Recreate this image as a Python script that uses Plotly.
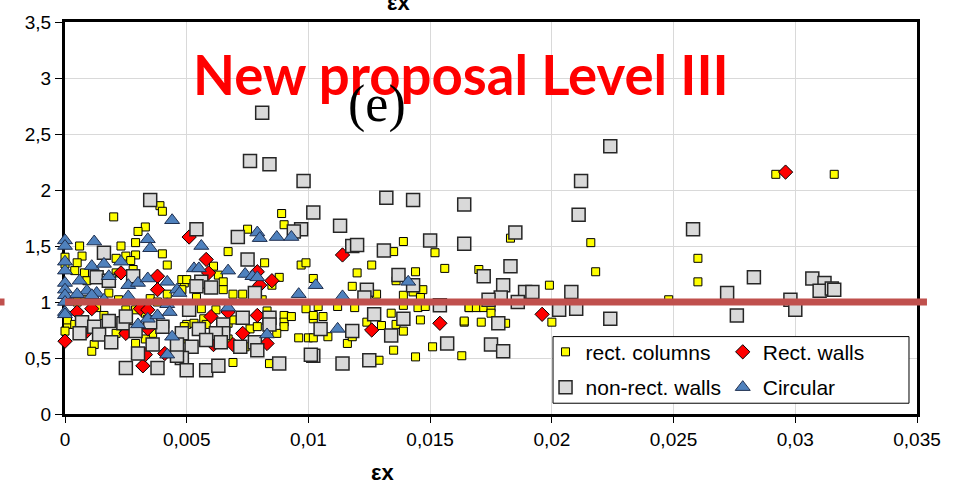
import plotly.graph_objects as go

# ---------------- data (x = εx, y = ratio) ----------------
rect_columns = [
    (0.0020, 1.76), (0.0039, 1.86), (0.0040, 1.81), (0.0033, 1.67), (0.0030, 1.63),
    (0.0006, 1.50), (0.0023, 1.50), (0.0029, 1.53), (0.0029, 1.42), (0.0040, 1.43),
    (0.0042, 1.33), (0.0000, 1.40), (0.0000, 1.34), (0.0007, 1.41), (0.0005, 1.35),
    (0.0021, 1.39), (0.0025, 1.41), (0.0027, 1.37), (0.0004, 1.28), (0.0008, 1.26),
    (0.0009, 1.19), (0.0021, 1.26), (0.0028, 1.29), (0.0049, 1.17), (0.0048, 1.11),
    (0.0042, 1.07), (0.0009, 1.02), (0.0022, 1.02), (0.0029, 0.93), (0.0025, 0.93),
    (0.0001, 0.88), (0.0001, 0.80), (0.0000, 0.74), (0.0001, 0.84), (0.0004, 0.80),
    (0.0012, 0.62), (0.0011, 0.56), (0.0048, 0.67), (0.0050, 0.80), (0.0041, 0.80),
    (0.0036, 0.72), (0.0033, 0.67), (0.0029, 0.63), (0.0023, 0.78), (0.0021, 0.72),
    (0.0013, 0.95), (0.0016, 0.88), (0.0005, 1.00), (0.0018, 1.08), (0.0035, 1.03),
    (0.0038, 1.00), (0.0033, 0.90),
    (0.0089, 1.79), (0.0090, 1.69), (0.0075, 1.65), (0.0067, 1.45), (0.0082, 1.35),
    (0.0097, 1.33), (0.0061, 1.32), (0.0088, 1.22), (0.0085, 1.15), (0.0063, 1.24),
    (0.0065, 1.18), (0.0065, 1.11), (0.0069, 1.07), (0.0073, 1.07), (0.0081, 1.02),
    (0.0083, 0.92), (0.0062, 0.93), (0.0056, 0.94), (0.0050, 0.93), (0.0049, 0.78),
    (0.0053, 0.81), (0.0057, 0.85), (0.0058, 0.80), (0.0067, 0.81), (0.0069, 0.84),
    (0.0076, 0.76), (0.0079, 0.78), (0.0090, 0.88), (0.0090, 0.82), (0.0093, 0.87),
    (0.0090, 0.78), (0.0087, 0.72), (0.0096, 0.68), (0.0100, 0.68), (0.0069, 0.46),
    (0.0084, 0.45), (0.0074, 0.60), (0.0067, 0.67), (0.0048, 1.20), (0.0050, 1.20),
    (0.0099, 0.94), (0.0102, 0.85), (0.0054, 1.04),
    (0.0139, 1.54), (0.0135, 1.45), (0.0152, 1.44), (0.0126, 1.33), (0.0120, 1.26),
    (0.0156, 1.30), (0.0144, 1.27), (0.0136, 1.19), (0.0118, 1.14), (0.0147, 1.11),
    (0.0128, 1.07), (0.0139, 1.06), (0.0143, 1.09), (0.0146, 1.04), (0.0102, 1.21),
    (0.0099, 1.35), (0.0104, 0.96), (0.0112, 0.96), (0.0119, 0.95), (0.0139, 0.97),
    (0.0145, 0.95), (0.0148, 0.96), (0.0166, 0.95), (0.0102, 0.88), (0.0106, 0.87),
    (0.0134, 0.90), (0.0146, 0.84), (0.0164, 0.82), (0.0124, 0.82), (0.0130, 0.79),
    (0.0136, 0.80), (0.0139, 0.74), (0.0102, 0.68), (0.0108, 0.69), (0.0116, 0.63),
    (0.0118, 0.69), (0.0151, 0.60), (0.0135, 0.57), (0.0144, 0.51), (0.0163, 0.52),
    (0.0129, 0.48),
    (0.0216, 1.53), (0.0218, 1.27), (0.0199, 1.15), (0.0170, 1.29), (0.0183, 1.57),
    (0.0248, 1.02), (0.0166, 0.95), (0.0169, 0.95), (0.0172, 0.95), (0.0175, 0.95),
    (0.0175, 0.90), (0.0164, 0.83), (0.0171, 0.82), (0.0181, 0.81), (0.0200, 0.82),
    (0.0292, 2.14), (0.0316, 2.14), (0.0260, 1.39), (0.0260, 1.18),
]

rect_walls = [
    (0.0296, 2.16), (0.0196, 0.89), (0.0114, 1.42), (0.0126, 0.75), (0.0154, 0.81),
    (0.0051, 1.58), (0.0058, 1.38), (0.0059, 1.26), (0.0079, 1.27), (0.0085, 1.19),
    (0.0060, 0.87), (0.0079, 0.88), (0.0073, 0.72), (0.0069, 0.62), (0.0083, 0.63),
    (0.0080, 1.15), (0.0067, 0.91), (0.0000, 0.65), (0.0032, 0.43), (0.0038, 1.23),
    (0.0023, 1.26), (0.0038, 1.11), (0.0025, 0.72), (0.0009, 0.74), (0.0034, 0.76),
    (0.0033, 0.53), (0.0041, 0.54), (0.0031, 0.94), (0.0005, 0.91), (0.0011, 0.94),
    (0.0034, 0.93), (0.0061, 0.62),
]

non_rect_walls = [
    (0.0081, 2.69), (0.0076, 2.26), (0.0084, 2.23), (0.0098, 2.08), (0.0224, 2.39),
    (0.0212, 2.08), (0.0211, 1.78), (0.0258, 1.65), (0.0132, 1.93), (0.0143, 1.91),
    (0.0035, 1.91), (0.0102, 1.80), (0.0113, 1.68), (0.0164, 1.87), (0.0164, 1.52),
    (0.0054, 1.65), (0.0071, 1.58), (0.0097, 1.65), (0.0094, 1.63), (0.0185, 1.62),
    (0.0183, 1.32), (0.0118, 1.50), (0.0120, 1.51), (0.0131, 1.46), (0.0150, 1.55),
    (0.0137, 1.24), (0.0124, 1.11), (0.0123, 1.04), (0.0143, 1.15), (0.0127, 0.89),
    (0.0139, 0.85), (0.0105, 0.76), (0.0118, 0.74), (0.0134, 0.70), (0.0157, 0.63),
    (0.0102, 0.52), (0.0114, 0.45), (0.0125, 0.48), (0.0154, 0.97), (0.0172, 1.23),
    (0.0180, 1.15), (0.0189, 1.09), (0.0192, 1.09), (0.0179, 1.04), (0.0174, 1.02),
    (0.0186, 1.00), (0.0208, 1.09), (0.0203, 0.93), (0.0210, 0.94), (0.0224, 0.85),
    (0.0178, 0.81), (0.0175, 0.62), (0.0180, 0.56), (0.0283, 1.22), (0.0272, 1.08),
    (0.0276, 0.88), (0.0298, 1.02), (0.0300, 0.93), (0.0307, 1.21), (0.0312, 1.17),
    (0.0310, 1.10), (0.0315, 1.12), (0.0316, 1.11),
    (0.0075, 1.38), (0.0056, 1.18), (0.0060, 1.13), (0.0054, 1.14), (0.0078, 1.08),
    (0.0051, 0.93), (0.0073, 0.86), (0.0084, 0.86), (0.0055, 0.76), (0.0065, 0.80),
    (0.0065, 0.72), (0.0062, 0.72), (0.0058, 0.66), (0.0064, 0.64), (0.0072, 0.60),
    (0.0078, 0.64), (0.0079, 0.57), (0.0084, 0.80), (0.0052, 0.60), (0.0048, 0.72),
    (0.0048, 0.50), (0.0050, 0.39), (0.0058, 0.39), (0.0063, 0.43), (0.0088, 0.45),
    (0.0101, 0.53), (0.0016, 1.44), (0.0013, 1.22), (0.0028, 1.23), (0.0018, 1.19),
    (0.0007, 0.82), (0.0006, 0.72), (0.0012, 0.78), (0.0018, 0.83), (0.0014, 0.71),
    (0.0019, 0.64), (0.0024, 0.81), (0.0029, 0.74), (0.0030, 0.54), (0.0025, 0.41),
    (0.0038, 0.41), (0.0036, 0.62), (0.0046, 0.52), (0.0040, 0.78), (0.0035, 0.82),
    (0.0025, 0.87), (0.0046, 0.62),
]

circular = [
    (0.0000, 1.55), (0.0000, 1.50), (0.0012, 1.54), (0.0044, 1.73), (0.0034, 1.56),
    (0.0035, 1.48), (0.0000, 1.28), (0.0000, 1.17), (0.0000, 1.11), (0.0000, 1.06),
    (0.0000, 1.00), (0.0000, 0.91), (0.0000, 1.36), (0.0000, 0.89), (0.0011, 1.32),
    (0.0016, 1.34), (0.0023, 1.36), (0.0006, 1.19), (0.0018, 1.23), (0.0009, 1.10),
    (0.0013, 1.08), (0.0005, 1.07), (0.0026, 1.15), (0.0030, 1.17), (0.0034, 1.21),
    (0.0042, 1.18), (0.0046, 1.11), (0.0042, 0.98), (0.0030, 0.80), (0.0034, 0.85),
    (0.0038, 0.88), (0.0043, 0.91), (0.0044, 0.69), (0.0042, 0.53), (0.0026, 1.05),
    (0.0011, 1.06), (0.0016, 1.02), (0.0056, 1.50), (0.0079, 1.62), (0.0080, 1.57),
    (0.0087, 1.58), (0.0093, 1.58), (0.0053, 1.30), (0.0055, 1.30), (0.0067, 1.28),
    (0.0074, 1.25), (0.0077, 1.23), (0.0079, 1.22), (0.0096, 1.07), (0.0067, 0.95),
    (0.0083, 0.71), (0.0047, 1.08), (0.0103, 1.15), (0.0141, 1.18), (0.0114, 1.05),
    (0.0112, 0.76),
]

reference_value = 1.0
x_tick_vals = [0, 0.005, 0.01, 0.015, 0.02, 0.025, 0.03, 0.035]
x_tick_text = ["0", "0,005", "0,01", "0,015", "0,02", "0,025", "0,03", "0,035"]
y_tick_vals = [0, 0.5, 1, 1.5, 2, 2.5, 3, 3.5]
y_tick_text = ["0", "0,5", "1", "1,5", "2", "2,5", "3", "3,5"]

# ---------------- figure ----------------
fig = go.Figure()

def add_series(points, name, symbol, size, fill, outline, lw, legend, group):
    fig.add_trace(go.Scatter(
        x=[p[0] for p in points], y=[p[1] for p in points],
        mode="markers", name=name, cliponaxis=False,
        marker=dict(symbol=symbol, size=size, color=fill,
                    line=dict(color=outline, width=lw)),
        legend=legend, legendgroup=group,
    ))

add_series(rect_columns, "rect. columns", "square", 8, "#FFFF00", "#000000", 1, "legend", "g1")
add_series(rect_walls, "Rect. walls", "diamond", 11, "#FF0000", "#000000", 1, "legend2", "g2")
add_series(non_rect_walls, "non-rect. walls", "square", 13, "#D9D9D9", "#262626", 1.5, "legend", "g3")
add_series(circular, "Circular", "triangle-up", 13, "#4F81BD", "#1F2F4F", 1, "legend2", "g4")

axis_font = dict(family="Liberation Sans", size=19, color="#000000")

fig.update_layout(
    width=964, height=489,
    margin=dict(l=65, r=47, t=14, b=75),
    paper_bgcolor="white", plot_bgcolor="white",
    separators=",.",
    showlegend=True,
    xaxis=dict(range=[0, 0.035], tickvals=x_tick_vals, ticktext=x_tick_text,
               showgrid=True, gridcolor="#D9D9D9", gridwidth=1,
               showline=True, linecolor="#000000", linewidth=3, mirror=True,
               ticks="outside", ticklen=6, tickcolor="#000000", tickwidth=1,
               tickfont=axis_font, zeroline=False, layer="below traces"),
    yaxis=dict(range=[0, 3.5], tickvals=y_tick_vals, ticktext=y_tick_text,
               showgrid=True, gridcolor="#D9D9D9", gridwidth=1,
               showline=True, linecolor="#000000", linewidth=3, mirror=True,
               ticks="outside", ticklen=7, tickcolor="#000000", tickwidth=1,
               tickfont=axis_font, zeroline=False, layer="below traces"),
    legend=dict(x=0.564, y=0.21, xanchor="left", yanchor="top",
                bgcolor="rgba(0,0,0,0)", borderwidth=0, tracegroupgap=5,
                font=dict(family="Liberation Sans", size=21, color="#000000")),
    legend2=dict(x=0.772, y=0.21, xanchor="left", yanchor="top",
                 bgcolor="rgba(0,0,0,0)", borderwidth=0, tracegroupgap=5,
                 font=dict(family="Liberation Sans", size=21, color="#000000")),
)

# legend frame
fig.add_shape(type="rect", xref="paper", yref="paper",
              x0=0.5728, x1=0.9906, y0=0.0275, y1=0.1975,
              fillcolor="white", line=dict(color="#000000", width=1), layer="above")

# reference line at ratio 1
fig.add_shape(type="line", xref="paper", yref="y",
              x0=0, x1=1.0117, y0=reference_value, y1=reference_value,
              line=dict(color="#C0504D", width=7), layer="above")
fig.add_shape(type="line", xref="paper", yref="y",
              x0=-0.0763, x1=-0.071, y0=reference_value, y1=reference_value,
              line=dict(color="#C0504D", width=7), layer="above")

# texts
fig.add_annotation(text="New proposal Level III", xref="paper", yref="paper",
                   x=0.4648, y=0.868, xanchor="center", yanchor="middle", showarrow=False,
                   font=dict(family="Lato", size=54.5, color="#FF0000", weight="bold"))
fig.add_annotation(text="(e)", xref="paper", yref="paper",
                   x=0.366, y=0.792, xanchor="center", yanchor="middle", showarrow=False,
                   font=dict(family="Liberation Serif", size=52, color="#000000"))
fig.add_annotation(text="εx", xref="paper", yref="paper",
                   x=0.373, y=-0.15, xanchor="center", yanchor="middle", showarrow=False,
                   font=dict(family="Liberation Sans", size=22, color="#000000", weight="bold"))
fig.add_annotation(text="εx", xref="paper", yref="paper",
                   x=0.391, y=1.05, xanchor="center", yanchor="middle", showarrow=False,
                   font=dict(family="Liberation Sans", size=22, color="#000000", weight="bold"))

fig.write_html("out.html")
